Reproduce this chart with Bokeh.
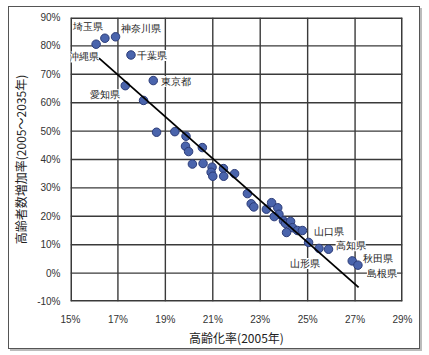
from bokeh.plotting import figure
from bokeh.layouts import column
from bokeh.models import Range1d, FixedTicker, ColumnDataSource, LabelSet
from bokeh.embed import file_html
from bokeh.resources import INLINE

# aging rate 2005 (%) and growth of elderly population 2005-2035 (%)
aging_rate = [16.08, 16.45, 16.9, 17.55, 18.49, 17.31, 18.08, 18.63, 19.40, 19.87,
              19.85, 19.98, 20.56, 20.14, 20.59, 20.97, 20.93, 21.0, 21.45, 21.46,
              21.92, 22.46, 22.62, 22.73, 23.26, 23.48, 23.74, 23.79, 23.59, 23.98,
              24.07, 24.28, 24.36, 24.11, 24.57, 24.78, 25.04, 25.48, 25.88, 26.88, 27.12]
elderly_growth = [80.6, 82.7, 83.2, 76.8, 67.8, 66.0, 60.8, 49.6, 49.8, 48.2,
                  44.7, 42.8, 44.2, 38.4, 38.6, 37.3, 35.5, 34.1, 36.8, 34.1,
                  35.0, 28.0, 24.4, 23.3, 22.5, 24.8, 23.0, 20.7, 19.9, 18.4,
                  17.5, 18.2, 16.0, 14.3, 15.0, 15.0, 10.8, 8.7, 8.4, 4.3, 2.8]

# regression line end points
trend_x = [16.2, 27.15]
trend_y = [75.7, -5.0]

# prefecture annotations
label_names = ["埼玉県", "神奈川県", "沖縄県", "千葉県", "東京都", "愛知県",
               "山口県", "高知県", "山形県", "秋田県", "島根県"]
label_x = [15.12, 17.15, 14.93, 17.82, 18.81, 15.83, 25.27, 26.18, 24.24, 27.34, 27.5]
label_y = [86.7, 86.3, 76.1, 76.6, 67.5, 62.8, 14.8, 9.6, 3.4, 5.3, 0.0]

x_ticks = [15, 17, 19, 21, 23, 25, 27, 29]
x_tick_labels = ["15%", "17%", "19%", "21%", "23%", "25%", "27%", "29%"]
y_ticks = [-10, 0, 10, 20, 30, 40, 50, 60, 70, 80, 90]
y_tick_labels = ["-10%", "0%", "10%", "20%", "30%", "40%", "50%", "60%", "70%", "80%", "90%"]

GRID = "#3a3a3a"

x_lo, x_hi = x_ticks[0], x_ticks[-1]
y_lo, y_hi = y_ticks[0], y_ticks[-1]

p = figure(width=410, height=341, x_range=Range1d(x_lo, x_hi), y_range=Range1d(y_lo, y_hi),
           output_backend="svg", toolbar_location=None,
           min_border_left=56, min_border_right=17, min_border_top=10, min_border_bottom=47)

p.outline_line_color = None
p.grid.grid_line_color = None

for ax in (p.xaxis[0], p.yaxis[0]):
    ax.axis_line_color = None
    ax.major_tick_line_color = None
    ax.minor_tick_line_color = None
    ax.major_tick_out = 0
    ax.major_tick_in = 0
    ax.major_label_text_font = "Liberation Sans"
    ax.major_label_text_font_size = "10px"
    ax.major_label_text_color = "#333333"
    ax.axis_label_text_font = "Noto Sans CJK JP"
    ax.axis_label_text_font_size = "12px"
    ax.axis_label_text_font_style = "normal"
    ax.axis_label_text_color = "#222222"

p.xaxis[0].ticker = FixedTicker(ticks=x_ticks)
p.xaxis[0].major_label_overrides = dict(zip(x_ticks, x_tick_labels))
p.yaxis[0].ticker = FixedTicker(ticks=y_ticks)
p.yaxis[0].major_label_overrides = dict(zip(y_ticks, y_tick_labels))
p.xaxis[0].major_label_standoff = 12
p.xaxis[0].axis_label_standoff = 1
p.yaxis[0].major_label_standoff = 10
p.yaxis[0].axis_label_standoff = 5
p.xaxis[0].axis_label = "高齢化率(2005年)"
p.yaxis[0].axis_label = "高齢者数増加率(2005～2035年)"

# grid and frame lines drawn as thin filled bars at the tick positions
# (edge bars are wider because half of them falls outside the clipped frame)
vx_w = [3 if v in (x_lo, x_hi) else 1.4 for v in x_ticks]
hy_h = [3 if v in (y_lo, y_hi) else 1.4 for v in y_ticks]
p.rect(x=x_ticks, y=[(y_lo + y_hi) / 2] * len(x_ticks), width=vx_w,
       height=y_hi - y_lo, width_units="screen", fill_color=GRID, line_color=None)
p.rect(x=[(x_lo + x_hi) / 2] * len(y_ticks), y=y_ticks, width=x_hi - x_lo,
       height=hy_h, height_units="screen", fill_color=GRID, line_color=None)

p.scatter(aging_rate, elderly_growth, size=8.5, fill_color="#4a64ac",
          line_color="#2c3c78", line_width=1)

p.line(trend_x, trend_y, line_color="black", line_width=1.8)

labels_src = ColumnDataSource(dict(x=label_x, y=label_y, name=label_names))
p.add_layout(LabelSet(x="x", y="y", text="name", source=labels_src,
                      text_font="Noto Sans CJK JP", text_font_size="10px",
                      text_color="#222222", text_baseline="middle", text_align="left",
                      background_fill_color="white"))

layout = column(p, styles={"border": "1.5px solid #555555",
                           "margin-left": "8px", "margin-top": "6px",
                           "box-shadow": "2px 2px 0 #bbbbbb",
                           "background-color": "white"})

open("out.html", "w").write(file_html(layout, INLINE))
